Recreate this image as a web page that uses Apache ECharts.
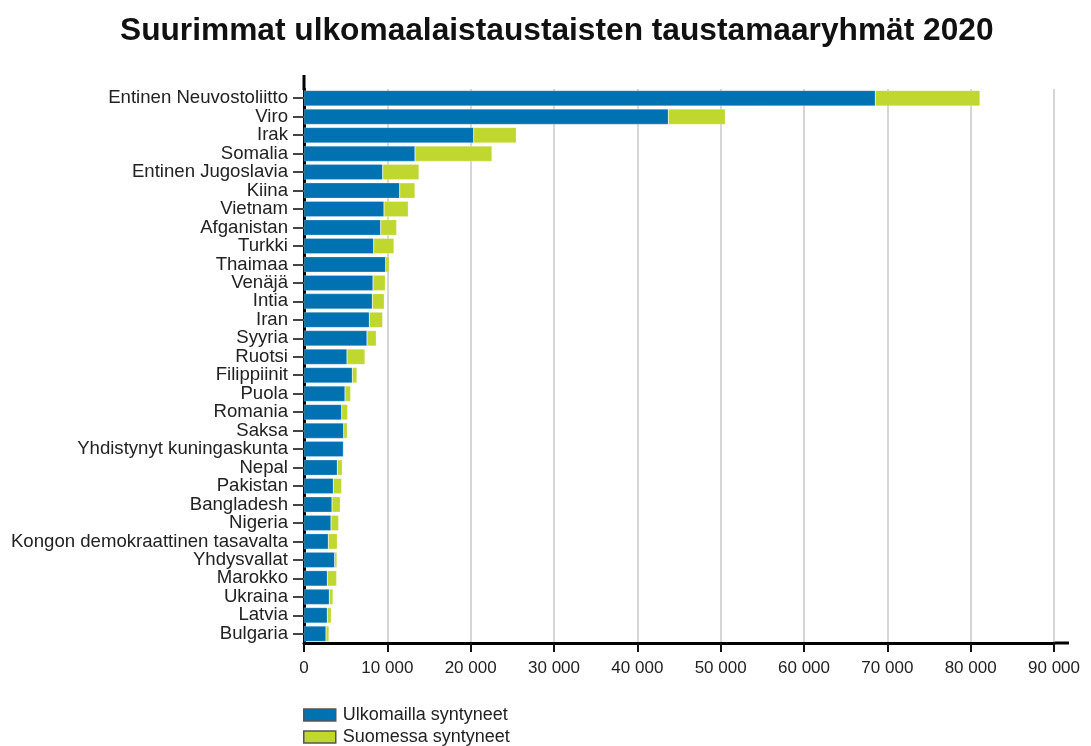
<!DOCTYPE html>
<html>
<head>
<meta charset="utf-8">
<script src="https://cdn.jsdelivr.net/npm/echarts@6/dist/echarts.min.js"></script>
<style>
  html, body { margin: 0; padding: 0; background: #fff; }
  #main { width: 1091px; height: 746px; }
</style>
</head>
<body>
<div id="main"></div>
<script>
const countries = [
  'Entinen Neuvostoliitto', 'Viro', 'Irak', 'Somalia', 'Entinen Jugoslavia',
  'Kiina', 'Vietnam', 'Afganistan', 'Turkki', 'Thaimaa', 'Venäjä', 'Intia',
  'Iran', 'Syyria', 'Ruotsi', 'Filippiinit', 'Puola', 'Romania', 'Saksa',
  'Yhdistynyt kuningaskunta', 'Nepal', 'Pakistan', 'Bangladesh', 'Nigeria',
  'Kongon demokraattinen tasavalta', 'Yhdysvallat', 'Marokko', 'Ukraina',
  'Latvia', 'Bulgaria'
];
// born abroad
const bornAbroad = [
  68560, 43720, 20360, 13320, 9440, 11480, 9600, 9200, 8360, 9800, 8280, 8200,
  7840, 7560, 5160, 5800, 4920, 4520, 4760, 4720, 4000, 3520, 3360, 3240,
  2920, 3680, 2800, 3040, 2800, 2640
];
// born in Finland
const bornFinland = [
  12560, 6840, 5120, 9240, 4360, 1840, 2920, 1920, 2440, 440, 1480, 1440,
  1600, 1120, 2160, 560, 680, 720, 440, 120, 600, 1000, 1000, 920,
  1080, 280, 1120, 440, 480, 360
];
const seriesNames = ['Ulkomailla syntyneet', 'Suomessa syntyneet'];
const xTicks = [0, 10000, 20000, 30000, 40000, 50000, 60000, 70000, 80000, 90000];

const chart = echarts.init(document.getElementById('main'));
const fmt = v => String(v).replace(/\B(?=(\d{3})+(?!\d))/g, ' ');

const legendBase = {
  left: 303,
  padding: 0,
  itemWidth: 32,
  itemHeight: 12,
  icon: 'rect',
  textStyle: { fontSize: 18, color: '#222', padding: [0, 0, 0, 2] },
  itemStyle: { borderColor: '#555', borderWidth: 1.5 }
};

chart.setOption({
  animation: false,
  textStyle: { fontFamily: 'Liberation Sans, Arial, sans-serif' },
  title: {
    text: 'Suurimmat ulkomaalaistaustaisten taustamaaryhmät 2020',
    left: 115,
    top: 10,
    textStyle: { fontSize: 31.7, fontWeight: 'bold', color: '#111' }
  },
  grid: { left: 304, right: 37, top: 89, bottom: 103, containLabel: false },
  legend: [
    Object.assign({ top: 706, data: [seriesNames[0]] }, legendBase),
    Object.assign({ top: 728, data: [seriesNames[1]] }, legendBase)
  ],
  xAxis: {
    type: 'value',
    min: xTicks[0],
    max: xTicks[xTicks.length - 1],
    interval: 10000,
    axisLine: { show: true, lineStyle: { color: '#000', width: 3 } },
    axisTick: { show: true, length: 9, lineStyle: { color: '#111', width: 2 } },
    axisLabel: { formatter: fmt, fontSize: 17, color: '#222', margin: 17 },
    splitLine: { show: true, lineStyle: { color: '#c8c8c8', width: 1.5 } }
  },
  yAxis: {
    type: 'category',
    data: countries,
    inverse: true,
    axisLine: { show: true, lineStyle: { color: '#000', width: 3 } },
    axisTick: { show: true, length: 11, alignWithLabel: true, lineStyle: { color: '#444', width: 2 } },
    axisLabel: { interval: 0, fontSize: 18.6, color: '#222', margin: 16 }
  },
  series: [
    {
      name: seriesNames[0],
      type: 'bar',
      stack: 'total',
      barCategoryGap: '16%',
      itemStyle: { color: '#0071b1', borderColor: 'rgba(255,255,255,0.5)', borderWidth: 0.5 },
      data: bornAbroad
    },
    {
      name: seriesNames[1],
      type: 'bar',
      stack: 'total',
      itemStyle: { color: '#c0d730', borderColor: 'rgba(255,255,255,0.5)', borderWidth: 0.5 },
      data: bornFinland
    }
  ],
  graphic: [
    // axis line extensions as in the original
    { type: 'line', shape: { x1: 304, y1: 75, x2: 304, y2: 90 }, style: { stroke: '#000', lineWidth: 3 } },
    { type: 'line', shape: { x1: 1053, y1: 643, x2: 1069, y2: 643 }, style: { stroke: '#000', lineWidth: 3 } }
  ]
});
</script>
</body>
</html>
